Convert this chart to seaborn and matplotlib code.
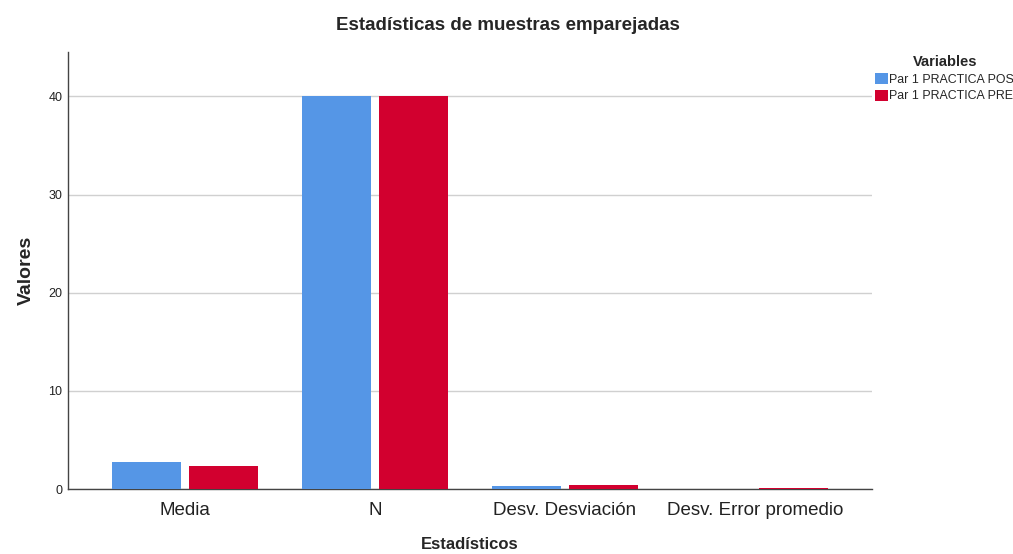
import matplotlib
matplotlib.use("Agg")
import matplotlib.pyplot as plt
import seaborn as sns
import pandas as pd
from matplotlib.patches import Patch

categories = ["Media", "N", "Desv. Desviación", "Desv. Error promedio"]
series_names = ["Par 1 PRACTICA POS", "Par 1 PRACTICA PRE"]
pos_values = [2.78, 40, 0.37, 0.06]
pre_values = [2.40, 40, 0.47, 0.07]
colors = ["#5596E6", "#D2002F"]

df = pd.DataFrame({
    "Estadísticos": categories * 2,
    "Valores": pos_values + pre_values,
    "Variables": [series_names[0]] * 4 + [series_names[1]] * 4,
})

sns.set_theme(style="white")
plt.rcParams['font.family'] = ['Liberation Sans', 'DejaVu Sans']

fig = plt.figure(figsize=(10.13, 5.54), dpi=100)
ax = fig.add_axes([0.067, 0.117, 0.794, 0.789])
sns.barplot(data=df, x="Estadísticos", y="Valores", hue="Variables",
            palette=colors, width=0.81, gap=0.104, ax=ax, legend=False,
            saturation=1, linewidth=0, zorder=3)

ax.set_xlim(-0.616, 3.616)
ax.set_ylim(0, 44.5)
ax.set_yticks([0, 10, 20, 30, 40])
ax.yaxis.grid(True, color="#d0d0d0", linewidth=1, zorder=0)
ax.set_axisbelow(True)
for s in ["top", "right"]:
    ax.spines[s].set_visible(False)
for s in ["left", "bottom"]:
    ax.spines[s].set_color("#444444")
    ax.spines[s].set_linewidth(1)
ax.tick_params(axis="x", labelsize=13.5, length=0, pad=9, colors="#222222")
ax.tick_params(axis="y", labelsize=9, length=0, pad=4, colors="#222222")
ax.set_xlabel("Estadísticos", fontsize=12, fontweight="bold", labelpad=13)
ax.set_ylabel("Valores", fontsize=14, fontweight="bold", labelpad=10)
fig.suptitle("Estadísticas de muestras emparejadas", fontsize=13.5,
             fontweight="bold", x=0.501, y=0.97)

handles = [Patch(facecolor=c, edgecolor="none") for c in colors]
leg = fig.legend(handles, series_names, title="Variables", loc="upper left",
                 bbox_to_anchor=(0.864, 0.9), frameon=False, fontsize=8.9,
                 title_fontproperties={"weight": "bold", "size": 10.5},
                 handlelength=1.0, handleheight=1.0, handletextpad=0.15,
                 labelspacing=0.3, borderpad=0.0, borderaxespad=0.0)

fig.savefig("out.png", dpi=100)
